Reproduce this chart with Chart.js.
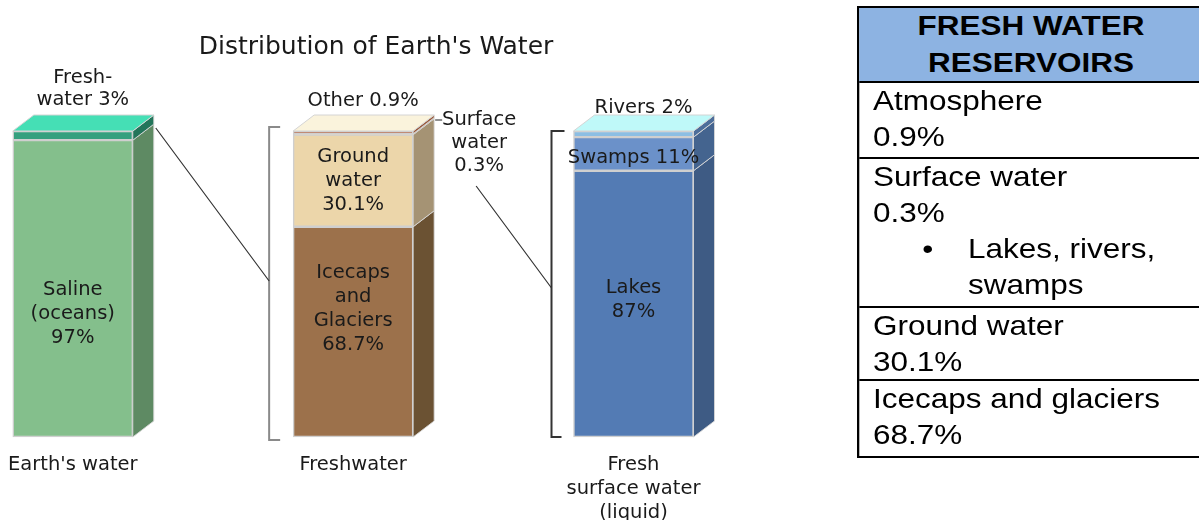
<!DOCTYPE html>
<html>
<head>
<meta charset="utf-8">
<script src="https://cdn.jsdelivr.net/npm/chart.js@4.4.1/dist/chart.umd.min.js"></script>
<style>
    html, body { margin: 0; padding: 0; background: #fff; width: 1199px; height: 520px; overflow: hidden; }
    #wrap { position: absolute; left: -8px; top: 0; width: 788px; height: 520px; }
    #tbl {
        position: absolute; left: 857px; top: 6px; width: 302px;
        transform: scaleX(1.145); transform-origin: 0 0;
        font-family: "Liberation Sans", Arial, sans-serif; font-size: 27.5px; line-height: 36px; color: #000;
        border: 2px solid #000; border-right: none; box-sizing: border-box;
    }
    #tbl .row { border-bottom: 2px solid #000; padding-left: 12px; overflow: hidden; }
    #tbl .row:last-child { border-bottom: none; }
    #tbl .head { background: #8db3e2; font-weight: bold; text-align: center; padding-left: 0; height: 73px; line-height: 36.5px; }
    #tbl .bullet { position: relative; margin-left: 83px; }
    #tbl .bullet span { position: absolute; left: -40px; top: 0; }
</style>
</head>
<body>
<div id="wrap"><canvas id="chart-water" width="788" height="520"></canvas></div>

<div id="tbl">
    <div class="row head">FRESH WATER<br>RESERVOIRS</div>
    <div class="row" style="height:74px">Atmosphere<br>0.9%</div>
    <div class="row" style="height:147px">Surface water<br>0.3%
        <div class="bullet"><span>•</span>Lakes, rivers,<br>swamps</div>
    </div>
    <div class="row" style="height:71px">Ground water<br>30.1%</div>
    <div class="row" style="height:75px">Icecaps and glaciers<br>68.7%</div>
</div>

<script>
// ─── Data ─────────────────────────────────────────────────────────────────────
const CATEGORIES = ["Earth's water", "Freshwater", ["Fresh", "surface water", "(liquid)"]];

// stack layers, bottom to top, one value per bar (null = no segment)
const LAYER_1 = [97, 68.7, 87];     // saline / icecaps & glaciers / lakes
const LAYER_2 = [3, 30.1, 11];      // freshwater / ground water / swamps
const LAYER_3 = [null, 0.3, 2];     // - / surface water / rivers
const LAYER_4 = [null, 0.9, null];  // - / other / -

const LAYER_1_TEXT = [["Saline", "(oceans)", "97%"], ["Icecaps", "and", "Glaciers", "68.7%"], ["Lakes", "87%"]];
const LAYER_2_TEXT = [[], ["Ground", "water", "30.1%"], ["Swamps 11%"]];
const TOP_TEXT = [["Fresh-", "water 3%"], ["Other 0.9%"], ["Rivers 2%"]];
const SURFACE_TEXT = ["Surface", "water", "0.3%"];
const TITLE = "Distribution of Earth's Water";

// ─── Styles ───────────────────────────────────────────────────────────────────
const FRONT = [
    ["#84bf8c", "#9c714b", "#537bb4"],
    ["#34a07e", "#ecd6aa", "#6b91c9"],
    [null, "#e4d2ae", "#8cbee3"],
    [null, "#b0694a", null],
];
const SIDE = [
    ["#5e8a63", "#6b5233", "#3e5b84"],
    ["#23755a", "#a59374", "#44648f"],
    [null, "#a08866", "#4d6e9a"],
    [null, "#9a5a3c", null],
];
const TOP_FACE = ["#45dfb5", "#faf3dc", "#bff9f9"];
const TEXT_SHIFT = [[25, -23, -4], [0, 0, 4]];
const NOTE_GAP = [31, 30, 23];
const DX = 21, DY = -16;
const OFFSET_X = 8; // canvas sits 8px left of the page edge
const FONT = '"DejaVu Sans", Verdana, sans-serif';

function poly(ctx, pts, fill, stroke) {
    ctx.beginPath();
    pts.forEach(([x, y], k) => (k ? ctx.lineTo(x, y) : ctx.moveTo(x, y)));
    ctx.closePath();
    ctx.fillStyle = fill;
    ctx.fill();
    if (stroke) {
        ctx.strokeStyle = stroke;
        ctx.lineWidth = 1;
        ctx.stroke();
    }
}

function lines(ctx, arr, x, yMid, step) {
    const y0 = yMid - ((arr.length - 1) * step) / 2;
    arr.forEach((t, k) => ctx.fillText(t, x, y0 + k * step));
}

// ─── 3D faces, notes and leader lines ─────────────────────────────────────────
const box3d = {
    id: "box3d",
    afterDatasetsDraw(chart) {
        const ctx = chart.ctx;
        const bars = CATEGORIES.map((_, i) => {
            const segs = [];
            chart.data.datasets.forEach((ds, d) => {
                if (ds.data[i] == null) return;
                segs.push({ el: chart.getDatasetMeta(d).data[i], d });
            });
            const e = segs[0].el;
            return {
                segs, x: e.x, left: e.x - e.width / 2, right: e.x + e.width / 2,
                base: e.base, top: Math.min(...segs.map((s) => s.el.y)),
            };
        });

        ctx.save();
        bars.forEach((b, i) => {
            b.segs.forEach(({ el, d }) => {
                const R = b.right;
                poly(ctx, [[R, el.y], [R + DX, el.y + DY], [R + DX, el.base + DY], [R, el.base]], SIDE[d][i], "rgba(215,215,215,0.9)");
            });
            const L = b.left, R = b.right, T = b.top;
            poly(ctx, [[L, T], [L + DX, T + DY], [R + DX, T + DY], [R, T]], TOP_FACE[i], "#d4d4d4");
        });

        ctx.fillStyle = "#1a1a1a";
        ctx.textAlign = "center";
        ctx.textBaseline = "middle";

        // title
        ctx.font = "25px " + FONT;
        ctx.fillText(TITLE, 376 + OFFSET_X, 47);

        ctx.font = "19.5px " + FONT;
        bars.forEach((b, i) => {
            const s1 = b.segs[0].el, s2 = b.segs[1].el;
            lines(ctx, LAYER_1_TEXT[i], b.x, (s1.y + s1.base) / 2 + TEXT_SHIFT[0][i], 24);
            lines(ctx, LAYER_2_TEXT[i], b.x, (s2.y + s2.base) / 2 + TEXT_SHIFT[1][i], 24);
            const n = TOP_TEXT[i];
            const lastY = b.top - NOTE_GAP[i];
            n.forEach((t, k) => ctx.fillText(t, b.x + 10, lastY - (n.length - 1 - k) * 22));
        });

        // surface water note beside the freshwater bar
        const b1 = bars[0], b2 = bars[1], b3 = bars[2];
        const noteX = b2.right + DX + 45;
        lines(ctx, SURFACE_TEXT, noteX, b2.top + 12, 23);

        ctx.strokeStyle = "#444";
        ctx.lineWidth = 1.2;
        ctx.beginPath();
        ctx.moveTo(b2.right + DX + 1, b2.top - 11);
        ctx.lineTo(b2.right + DX + 8, b2.top - 11);
        ctx.stroke();

        // brackets
        const br2 = b2.left - 24, br3 = b3.left - 22;
        ctx.lineWidth = 2;
        ctx.strokeStyle = "#8a8a8a";
        ctx.beginPath();
        ctx.moveTo(br2 + 11, b2.top - 4);
        ctx.lineTo(br2, b2.top - 4);
        ctx.lineTo(br2, b2.base + 3);
        ctx.lineTo(br2 + 11, b2.base + 3);
        ctx.stroke();
        ctx.strokeStyle = "#333";
        ctx.beginPath();
        ctx.moveTo(br3 + 13, b3.top);
        ctx.lineTo(br3, b3.top);
        ctx.lineTo(br3, b3.base);
        ctx.lineTo(br3 + 10, b3.base);
        ctx.stroke();

        // leader lines
        ctx.lineWidth = 1.2;
        ctx.strokeStyle = "#333";
        ctx.beginPath();
        ctx.moveTo(b1.right + DX + 2, b1.top - 3);
        ctx.lineTo(br2, (b2.top + b2.base) / 2 - 3);
        ctx.moveTo(noteX - 3, b2.top + 55);
        ctx.lineTo(br3, (b3.top + b3.base) / 2 + 4);
        ctx.stroke();
        ctx.restore();
    },
};

// ─── Chart ────────────────────────────────────────────────────────────────────
const LAYERS = [LAYER_1, LAYER_2, LAYER_3, LAYER_4];

new Chart(document.getElementById("chart-water"), {
    type: "bar",
    data: {
        labels: CATEGORIES,
        datasets: LAYERS.map((data, d) => ({
            data,
            backgroundColor: FRONT[d].map((c) => c || "transparent"),
            borderColor: "#cfcfcf",
            borderWidth: 1.5,
            borderSkipped: false,
            barThickness: 120,
            clip: false,
        })),
    },
    options: {
        responsive: false,
        animation: false,
        layout: { padding: { left: 72.5 + OFFSET_X, right: 788 - 633.5 - OFFSET_X, top: 131, bottom: 0 } },
        plugins: { legend: { display: false }, tooltip: { enabled: false }, title: { display: false } },
        scales: {
            x: {
                stacked: true,
                offset: false,
                grid: { display: false, drawTicks: false },
                border: { display: false },
                ticks: {
                    color: "#1a1a1a",
                    font: { family: FONT, size: 19.5, lineHeight: 1.22 },
                    padding: 16,
                    autoSkip: false,
                    maxRotation: 0,
                },
                afterFit: (s) => { s.height = 83; },
            },
            y: { stacked: true, display: false, min: 0, max: 100 },
        },
    },
    plugins: [box3d],
});
</script>
</body>
</html>
